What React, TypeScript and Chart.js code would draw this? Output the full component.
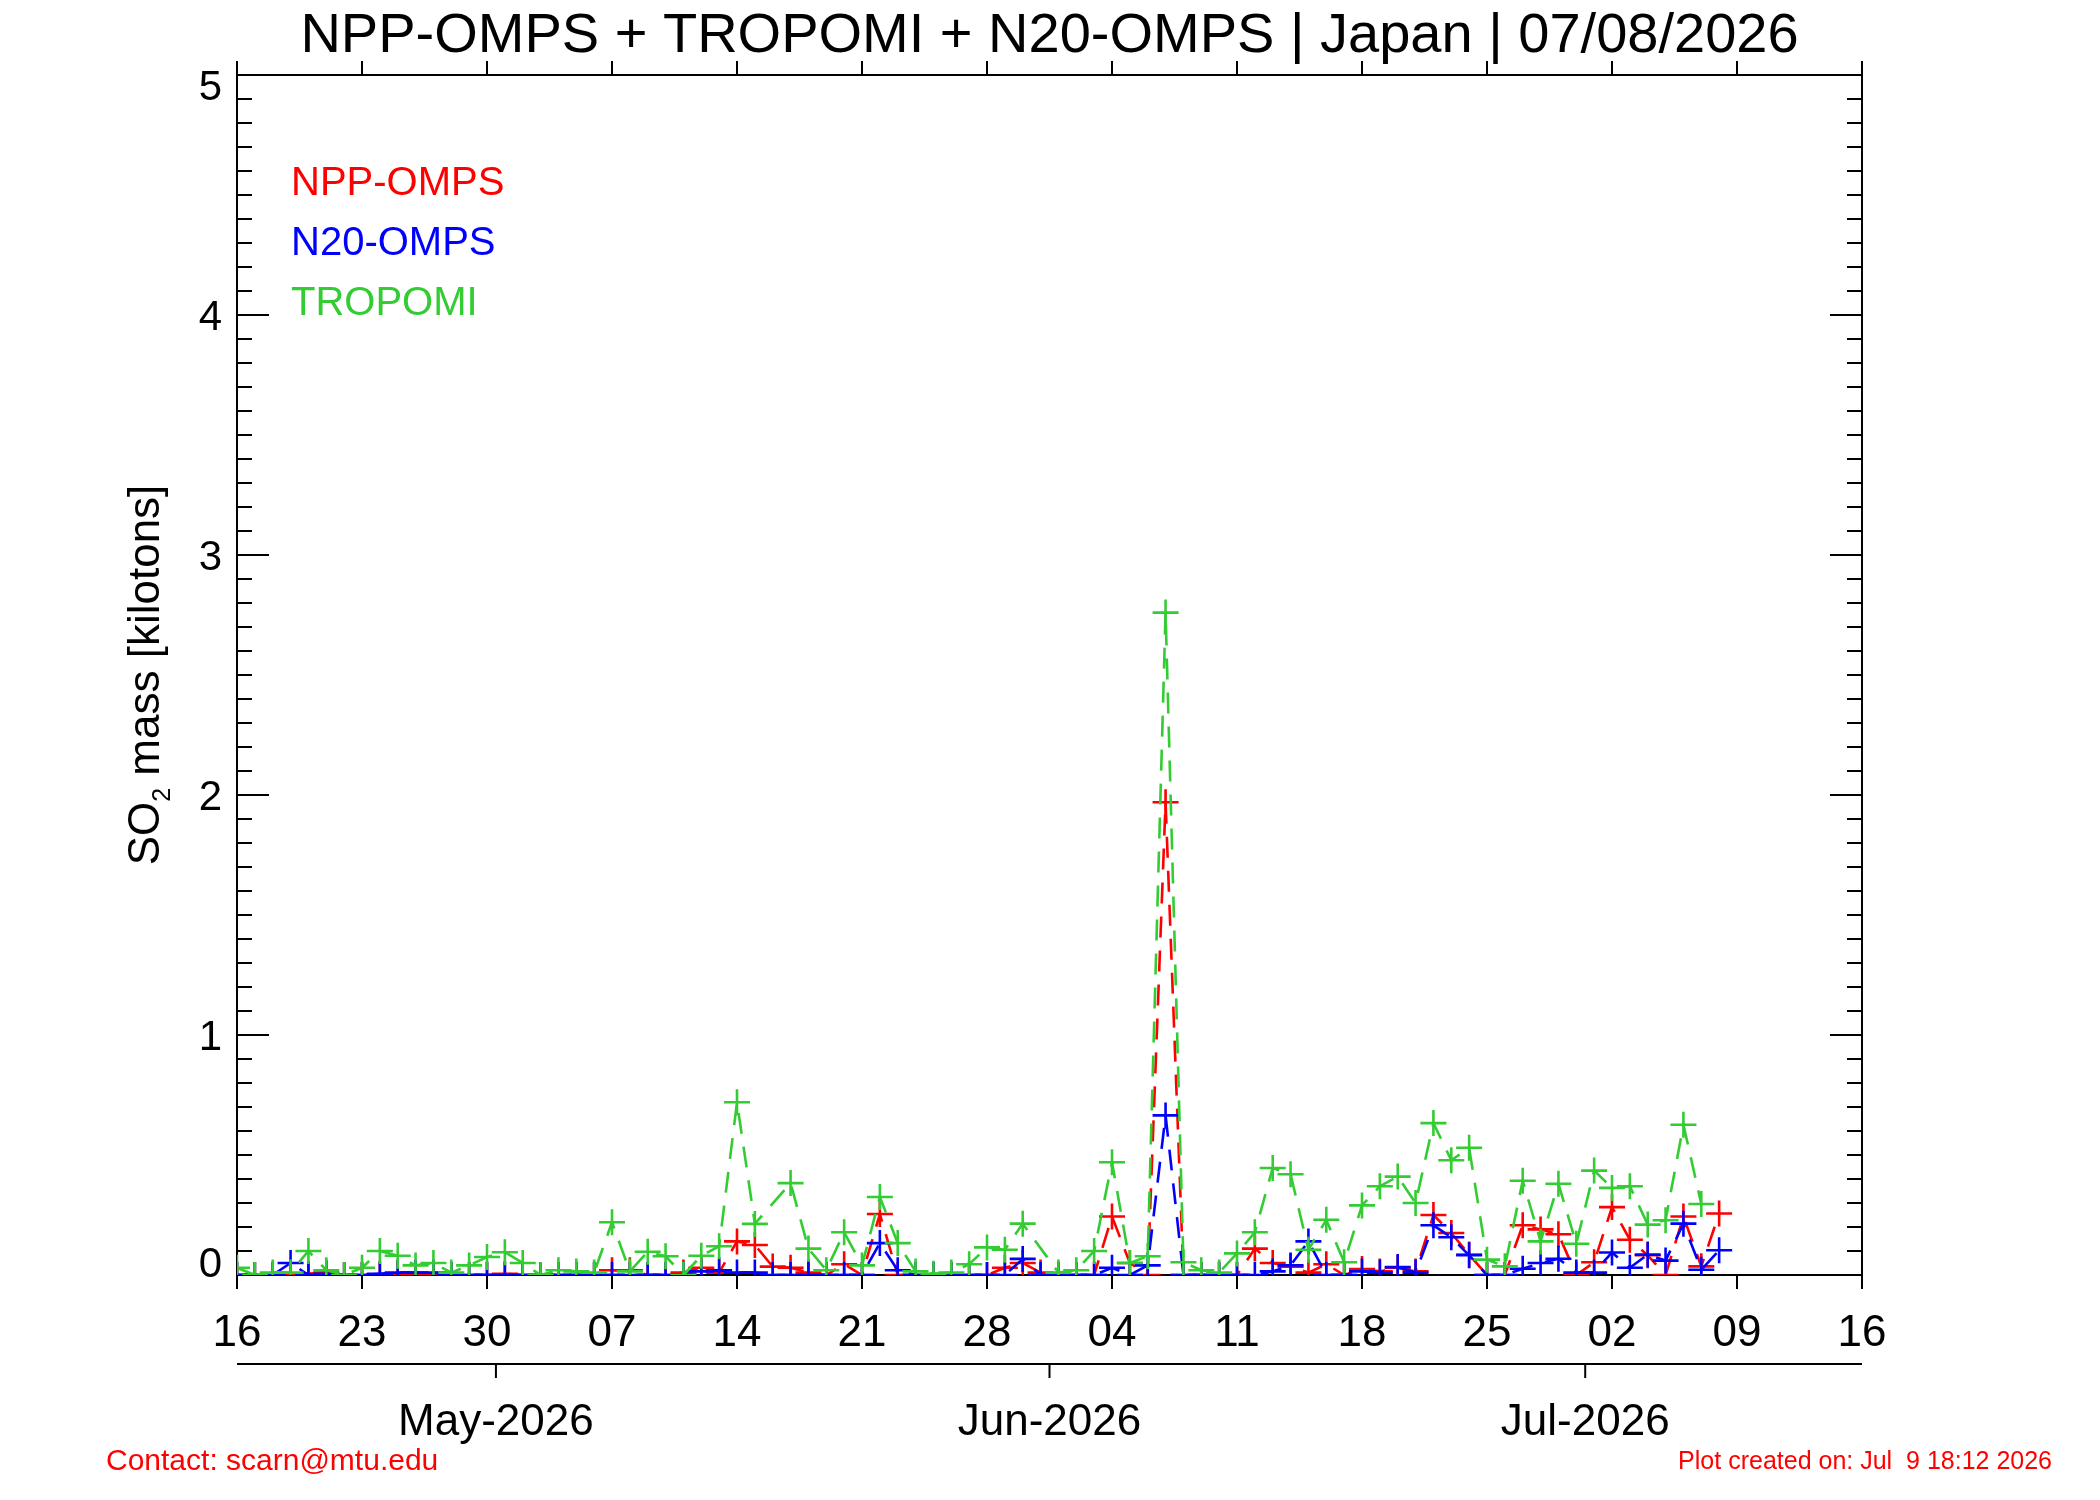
import React, { useEffect, useRef } from "react";
import { Chart, registerables } from "chart.js";

Chart.register(...registerables);

// ---- data (day index 0 = 16 Apr 2026) ----
const titleText = "NPP-OMPS + TROPOMI + N20-OMPS | Japan | 07/08/2026";
const dayTickLabels = ["16", "23", "30", "07", "14", "21", "28", "04", "11", "18", "25", "02", "09", "16"];
const monthLabels = ["May-2026", "Jun-2026", "Jul-2026"];
const monthTickDays = [14.5, 45.5, 75.5];
const yTickLabels = ["0", "1", "2", "3", "4", "5"];
const seriesNames = ["NPP-OMPS", "N20-OMPS", "TROPOMI"];

const nppOmps: (number | null)[] = [
  0, 0, 0, 0.005, 0.005, 0.01, 0, 0, 0, 0.005,
  0.005, 0, 0, 0, 0, 0.005, 0, 0, 0, 0,
  0, 0.02, 0.02, 0, 0, 0.01, 0.03, 0.01, 0.14, 0.125,
  0.035, 0.03, 0.01, 0, 0.045, 0, 0.254, 0, 0, 0,
  0, 0, 0, 0.03, 0.05, 0.01, 0, 0, 0, 0.244,
  0.05, 0, 1.97, 0, 0, 0, 0, 0.11, 0.05, 0.035,
  0.01, 0.045, 0, 0.025, 0.015, 0.03, 0.015, 0.25, 0.175, 0.085,
  0, 0, 0.207, 0.19, 0.17, 0, 0.053, 0.283, 0.147, 0.082,
  0, 0.244, 0.036, 0.256,
];

const n20Omps: (number | null)[] = [
  0, 0, 0, 0.05, 0, 0.005, 0, 0, 0.005, 0.01,
  0.01, 0.01, 0, 0, 0, 0, 0, 0, 0, 0,
  0, 0, 0, 0, 0, 0, 0.015, 0.02, 0.01, 0.01,
  0, 0, 0, 0, 0, 0, 0.133, 0.02, 0, 0,
  0, 0, 0, 0, 0.067, 0, 0, 0, 0, 0.03,
  0, 0.04, 0.665, 0, 0, 0, 0, 0, 0.015, 0.04,
  0.14, 0, 0, 0.015, 0.01, 0.033, 0.01, 0.207, 0.157, 0.082,
  0, 0, 0.026, 0.05, 0.068, 0.01, 0.01, 0.094, 0.03, 0.085,
  0.06, 0.214, 0.022, 0.103,
];

const tropomi: (number | null)[] = [
  0.03, 0, 0.01, 0.01, 0.1, 0.02, 0, 0.03, 0.1, 0.08,
  0.04, 0.05, 0.01, 0.04, 0.075, 0.095, 0.05, 0, 0.02, 0.015,
  0.01, 0.22, 0.015, 0.097, 0.078, 0, 0.08, 0.12, 0.72, 0.213,
  null, 0.383, 0.11, 0.02, 0.178, 0.04, 0.325, 0.133, 0.015, 0.005,
  0.01, 0.045, 0.115, 0.105, 0.214, null, 0.01, 0.02, 0.1, 0.47,
  0.05, 0.078, 2.76, 0.053, 0.02, 0.01, 0.09, 0.178, 0.446, 0.42,
  0.105, 0.23, 0.053, 0.29, 0.37, 0.41, 0.3, 0.633, 0.478, 0.53,
  0.064, 0.036, 0.393, 0.14, 0.38, 0.13, 0.435, 0.363, 0.37, 0.21,
  0.228, 0.626, 0.296, null,
];

const RED = "#ff0000";
const BLUE = "#0000ff";
const GREEN = "#33cc33";
const seriesColors = [RED, BLUE, GREEN];
const FONT = '"Liberation Sans", Arial, Helvetica, sans-serif';

const toPoints = (arr: (number | null)[]) => arr.map((v, i) => ({ x: i, y: v }));

const idlFrame = {
  id: "idlFrame",
  beforeDatasetsDraw(chart: any) {
    const { ctx, chartArea: a, scales } = chart;
    const xs = scales.x;
    const ys = scales.y;
    const line = (x1: number, y1: number, x2: number, y2: number) => {
      ctx.beginPath();
      ctx.moveTo(x1, y1);
      ctx.lineTo(x2, y2);
      ctx.stroke();
    };
    ctx.save();
    ctx.strokeStyle = "#000";
    ctx.lineWidth = 2;
    ctx.lineCap = "butt";
    ctx.strokeRect(a.left, a.top, a.right - a.left, a.bottom - a.top);
    // x ticks (every 7 days), outward on top and bottom
    for (let i = 0; i < dayTickLabels.length; i++) {
      const px = xs.getPixelForValue(i * 7);
      line(px, a.bottom, px, a.bottom + 14);
      line(px, a.top, px, a.top - 14);
    }
    // y ticks, inward on both sides
    for (let k = 0; k <= 50; k++) {
      const py = ys.getPixelForValue(k / 10);
      const len = k % 10 === 0 ? 32 : 15;
      line(a.left, py, a.left + len, py);
      line(a.right, py, a.right - len, py);
    }
    // month axis
    const my = a.bottom + 89;
    line(a.left, my, a.right, my);
    for (const d of monthTickDays) {
      const px = xs.getPixelForValue(d);
      line(px, my, px, my + 14);
    }
    ctx.restore();
  },
  afterDraw(chart: any) {
    const { ctx, chartArea: a, scales } = chart;
    const xs = scales.x;
    const ys = scales.y;
    ctx.save();
    ctx.fillStyle = "#000";
    ctx.textBaseline = "alphabetic";

    // title
    ctx.font = `56px ${FONT}`;
    ctx.textAlign = "center";
    ctx.fillText(titleText, (a.left + a.right) / 2, 52);

    // x tick labels
    ctx.font = `44px ${FONT}`;
    for (let i = 0; i < dayTickLabels.length; i++) {
      ctx.fillText(dayTickLabels[i], xs.getPixelForValue(i * 7), a.bottom + 71);
    }
    // month labels
    for (let i = 0; i < monthLabels.length; i++) {
      ctx.fillText(monthLabels[i], xs.getPixelForValue(monthTickDays[i]), a.bottom + 160);
    }

    // y tick labels
    ctx.font = `42px ${FONT}`;
    ctx.textAlign = "right";
    for (let i = 0; i < yTickLabels.length; i++) {
      const py = ys.getPixelForValue(i);
      let c = py;
      if (i === 0) c = py - 13;
      if (i === yTickLabels.length - 1) c = py + 10;
      ctx.fillText(yTickLabels[i], a.left - 15, c + 15);
    }

    // y axis title with subscript
    ctx.save();
    ctx.translate(159, (a.top + a.bottom) / 2);
    ctx.rotate(-Math.PI / 2);
    ctx.textAlign = "left";
    const big = `44px ${FONT}`;
    const small = `25px ${FONT}`;
    ctx.font = big;
    const w1 = ctx.measureText("SO").width;
    const w3 = ctx.measureText(" mass [kilotons]").width;
    ctx.font = small;
    const w2 = ctx.measureText("2").width;
    let sx = -(w1 + w2 + w3) / 2;
    ctx.font = big;
    ctx.fillText("SO", sx, 0);
    sx += w1;
    ctx.font = small;
    ctx.fillText("2", sx, 11);
    sx += w2;
    ctx.font = big;
    ctx.fillText(" mass [kilotons]", sx, 0);
    ctx.restore();

    // legend text
    ctx.font = `40px ${FONT}`;
    ctx.textAlign = "left";
    for (let i = 0; i < seriesNames.length; i++) {
      ctx.fillStyle = seriesColors[i];
      ctx.fillText(seriesNames[i], a.left + 54, a.top + 120 + i * 60);
    }

    // footer
    ctx.fillStyle = RED;
    ctx.font = `30px ${FONT}`;
    ctx.textAlign = "left";
    ctx.fillText("Contact: scarn@mtu.edu", 106, 1470);
    ctx.font = `25px ${FONT}`;
    ctx.textAlign = "right";
    ctx.fillText("Plot created on: Jul  9 18:12 2026", 2052, 1469);
    ctx.restore();
  },
};

const ds = (label: string, arr: (number | null)[], color: string, order: number) => ({
  label,
  data: toPoints(arr),
  borderColor: color,
  backgroundColor: color,
  borderWidth: 2.6,
  borderDash: [21, 13],
  pointStyle: "cross",
  pointRadius: 13,
  pointBorderWidth: 2.6,
  pointBorderColor: color,
  pointBackgroundColor: color,
  pointHoverRadius: 13,
  spanGaps: true,
  fill: false,
  tension: 0,
  order,
});

export default function App() {
  const ref = useRef<HTMLCanvasElement | null>(null);
  useEffect(() => {
    if (!ref.current) return;
    const chart = new Chart(ref.current, {
      type: "line",
      data: {
        datasets: [
          ds("TROPOMI", tropomi, GREEN, 0),
          ds("N20-OMPS", n20Omps, BLUE, 1),
          ds("NPP-OMPS", nppOmps, RED, 2),
        ] as any,
      },
      options: {
        animation: false,
        responsive: false,
        devicePixelRatio: 1,
        events: [],
        layout: { padding: { left: 237, right: 238, top: 75, bottom: 225 } },
        plugins: {
          legend: { display: false },
          tooltip: { enabled: false },
          title: { display: false },
        },
        scales: {
          x: { type: "linear", min: 0, max: 91, display: false },
          y: { type: "linear", min: 0, max: 5, display: false },
        },
      },
      plugins: [idlFrame],
    } as any);
    return () => chart.destroy();
  }, []);
  return (
    <div style={{ position: "absolute", left: 0, top: 0, width: 2100, height: 1500, background: "#fff" }}>
      <canvas ref={ref} width={2100} height={1500} style={{ width: 2100, height: 1500, display: "block" }} />
    </div>
  );
}
